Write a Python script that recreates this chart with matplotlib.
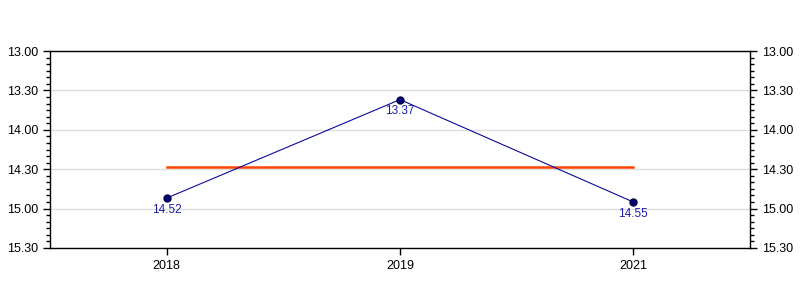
import numpy as np
import matplotlib.pyplot as plt
from matplotlib.ticker import MultipleLocator, FuncFormatter

plt.rcParams['font.family'] = ['Liberation Sans', 'DejaVu Sans']

# Data: finishing times as minutes.seconds
years = ['2018', '2019', '2021']
times = ['14.52', '13.37', '14.55']


def to_minutes(s):
    m, sec = s.split('.')
    return int(m) + int(sec) / 60.0


def fmt_time(v, pos=None):
    total = int(round(v * 60))
    return f"{total // 60}.{total % 60:02d}"


values = np.array([to_minutes(t) for t in times])
mean_val = values.mean()
x = np.arange(len(years))

fig = plt.figure(figsize=(8, 3), dpi=100)
ax = fig.add_axes([50 / 800, 52 / 300, 700 / 800, 197 / 300])

ax.grid(axis='y', color='#dddddd', linewidth=1)
ax.set_axisbelow(True)

ax.plot([x[0], x[-1]], [mean_val, mean_val], color='#ff4500', linewidth=1.8, zorder=2)
ax.plot(x, values, color='#0a0a9a', linewidth=0.8, marker='o', markersize=5,
        markerfacecolor='#00007a', markeredgecolor='#000040', zorder=3)

for xi, v, t in zip(x, values, times):
    ax.annotate(t, (xi, v), xytext=(0, -4), textcoords='offset points',
                ha='center', va='top', fontsize=8.5, color='#1c1ca8')

ax.set_xlim(-0.5, len(years) - 0.5)
ax.set_xticks(x)
ax.set_xticklabels(years)
ax.set_ylim(15.5, 13.0)
ax.yaxis.set_major_locator(MultipleLocator(0.5))
ax.yaxis.set_minor_locator(MultipleLocator(5 / 60))
ax.yaxis.set_major_formatter(FuncFormatter(fmt_time))
ax.tick_params(axis='y', which='both', left=True, right=True, labelleft=True, labelright=True)
ax.tick_params(axis='both', which='major', length=5, width=1, labelsize=9, colors='black')
ax.tick_params(axis='y', which='minor', length=3, width=1)

for sp in ax.spines.values():
    sp.set_linewidth(1)
    sp.set_color('black')

fig.savefig('out.png', dpi=100)
